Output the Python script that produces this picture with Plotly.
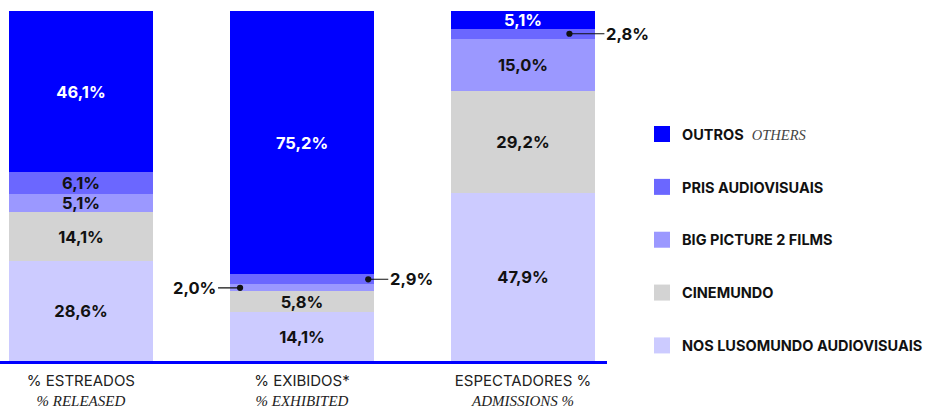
import plotly.graph_objects as go

SERIF_SPAN = "<span style=\"font-family:'Liberation Serif', 'DejaVu Serif', serif\"><i>{}</i></span>"

categories = ["% ESTREADOS", "% EXIBIDOS*", "ESPECTADORES %"]
categories_en = ["% RELEASED", "% EXHIBITED", "ADMISSIONS %"]
series_names = ["NOS LUSOMUNDO AUDIOVISUAIS", "CINEMUNDO", "BIG PICTURE 2 FILMS", "PRIS AUDIOVISUAIS", "OUTROS"]
nos = [28.6, 14.1, 47.9]
cinemundo = [14.1, 5.8, 29.2]
big_picture = [5.1, 2.0, 15.0]
pris = [6.1, 2.9, 2.8]
outros = [46.1, 75.2, 5.1]

colors = ["#cccbff", "#d3d3d3", "#9b98ff", "#6b67ff", "#0000ff"]
values = [nos, cinemundo, big_picture, pris, outros]

SANS = "Inter, 'Liberation Sans', sans-serif"

xs = [0, 1, 2]
ticktext = [pt + "<br>" + SERIF_SPAN.format(en) for pt, en in zip(categories, categories_en)]

fig = go.Figure()
for name, vals, col in zip(series_names, values, colors):
    tt = ["" if v < 3 else "%{y:.1f}%" for v in vals]
    fig.add_trace(go.Bar(
        x=xs, y=vals, name=name, marker=dict(color=col, line=dict(width=0)),
        width=0.652, texttemplate=tt, textposition="inside",
        insidetextanchor="middle", constraintext="none",
        textfont=dict(family=SANS, size=16.5, color="#ffffff" if name == "OUTROS" else "#111111", weight="bold"),
        showlegend=False, hoverinfo="skip",
    ))

# legend entries (top to bottom: OUTROS ... NOS)
legend_labels = {
    "OUTROS": "<b>OUTROS</b>  <span style=\"font-family:'Liberation Serif', serif; font-weight:normal; fill:#444\"><i>OTHERS</i></span>",
}
for name, col in list(zip(series_names, colors))[::-1]:
    fig.add_trace(go.Scatter(
        x=[None], y=[None], mode="markers", name=legend_labels.get(name, "<b>" + name + "</b>"),
        marker=dict(symbol="square", size=21, color=col),
        legendgroup=name, showlegend=True, hoverinfo="skip",
    ))

def cum_mid(idx_series, idx_cat):
    below = sum(values[k][idx_cat] for k in range(idx_series))
    return below + values[idx_series][idx_cat] / 2

callouts = [
    (2, 1, -0.28, -22, "right"),   # big picture, exhibited
    (3, 1, 0.30, 20, "left"),      # pris, exhibited
    (3, 2, 0.21, 35, "left"),      # pris, admissions
]
for s, c, dx, ax, anchor in callouts:
    fig.add_annotation(
        x=xs[c] + dx, y=cum_mid(s, c), xref="x", yref="y",
        text="<b>" + f"{values[s][c]:.1f}".replace(".", ",") + "%</b>",
        showarrow=True, arrowhead=6, arrowsize=1.3, arrowwidth=1.2, arrowcolor="#111111",
        ax=ax, ay=0, xanchor=anchor, standoff=0,
        font=dict(family=SANS, size=16.5, color="#111111"),
    )

fig.update_layout(
    barmode="stack",
    width=928, height=408,
    margin=dict(l=0, r=313, t=11, b=47),
    paper_bgcolor="white", plot_bgcolor="white",
    separators=",.",
    bargap=0,
    xaxis=dict(
        range=[-0.366, 2.38], tickvals=xs, ticktext=ticktext,
        showgrid=False, zeroline=False, showline=True, linecolor="#0000ff", linewidth=3,
        ticks="", ticklabelstandoff=4, tickfont=dict(family=SANS, size=15, color="#222222"),
        fixedrange=True,
    ),
    yaxis=dict(range=[0, 100], visible=False, fixedrange=True),
    legend=dict(
        x=1.058, y=0.694, xanchor="left", yanchor="top",
        font=dict(family=SANS, size=14.5, color="#111111"),
        tracegroupgap=31, traceorder="grouped",
        bgcolor="rgba(0,0,0,0)",
    ),
    showlegend=True,
)

fig.write_html("out.html", config={"displayModeBar": False},
               post_script="document.body.style.margin='0';document.body.style.overflow='hidden';")
